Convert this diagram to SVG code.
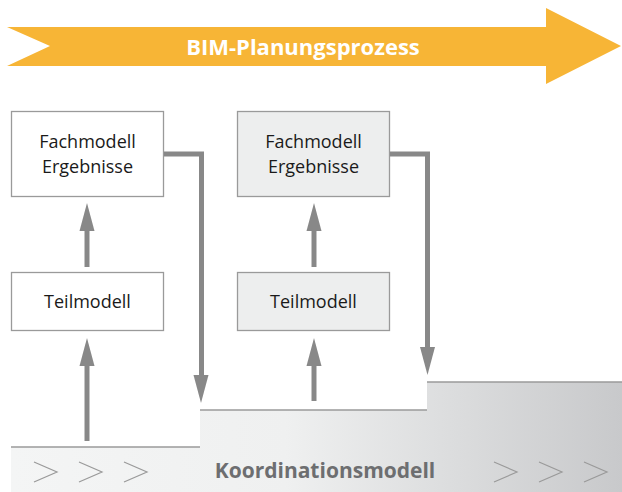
<svg xmlns="http://www.w3.org/2000/svg" width="622" height="492" viewBox="0 0 622 492">
<defs>
<linearGradient id="band" x1="0" y1="0" x2="1" y2="0">
<stop offset="0" stop-color="#f4f5f5"/>
<stop offset="0.45" stop-color="#eff0f0"/>
<stop offset="1" stop-color="#c8c9cb"/>
</linearGradient>
<style>
.box{stroke:#9a9a9a;stroke-width:1.3}
.white{fill:#ffffff}
.grey{fill:#edeeee}
.lbl{font-family:"Open Sans","Liberation Sans",sans-serif;font-size:18px;fill:#1a1a1a;text-anchor:middle}
.conn{fill:none;stroke:#888888;stroke-width:5}
.head{fill:#888888}
.chev{fill:none;stroke:#9a9a9a;stroke-width:1.2}
.step{fill:none;stroke:#9a9a9a;stroke-width:1.6}
</style>
</defs>

<g id="process-arrow">
<polygon points="7,27 546,27 546,8 621,46 546,84 546,66 7,66 50,46" fill="#f7b536"/>
<text x="303" y="55" font-family="'Open Sans','Liberation Sans',sans-serif" font-weight="bold" font-size="22" fill="#ffffff" text-anchor="middle">BIM-Planungsprozess</text>
</g>

<g id="koordinationsmodell">
<path d="M11,447 L200,447 L200,410 L427,410 L427,382 L622,382 L622,492 L11,492 Z" fill="url(#band)"/>
<path class="step" d="M11,447 H200 M200,410 H427 M427,382 H622"/>
<polyline class="chev" points="34,462 57,472 34,482"/>
<polyline class="chev" points="79,462 102,472 79,482"/>
<polyline class="chev" points="124,462 147,472 124,482"/>
<polyline class="chev" points="494,462 517,472 494,482"/>
<polyline class="chev" points="539,462 562,472 539,482"/>
<polyline class="chev" points="584,462 607,472 584,482"/>
<text x="325" y="478" font-family="'Open Sans','Liberation Sans',sans-serif" font-weight="bold" font-size="21" fill="#6d6e70" text-anchor="middle">Koordinationsmodell</text>
</g>

<g id="fach1">
<rect class="box white" x="11.5" y="111.5" width="152" height="85"/>
<text class="lbl" x="87.5" y="148">Fachmodell</text>
<text class="lbl" x="87.5" y="173">Ergebnisse</text>
</g>
<g id="teil1">
<rect class="box white" x="11.5" y="272.5" width="152" height="58"/>
<text class="lbl" x="87.5" y="308">Teilmodell</text>
</g>
<g id="fach2">
<rect class="box grey" x="237.5" y="111.5" width="152" height="85"/>
<text class="lbl" x="313.5" y="148">Fachmodell</text>
<text class="lbl" x="313.5" y="173">Ergebnisse</text>
</g>
<g id="teil2">
<rect class="box grey" x="237.5" y="272.5" width="152" height="58"/>
<text class="lbl" x="313.5" y="308">Teilmodell</text>
</g>

<g id="connectors">
<path class="conn" d="M87,267 V231"/>
<polygon class="head" points="79.5,231 94.5,231 87,203"/>
<path class="conn" d="M314,267 V231"/>
<polygon class="head" points="306.5,231 321.5,231 314,203"/>
<path class="conn" d="M87,441 V365"/>
<polygon class="head" points="79.5,366 94.5,366 87,338"/>
<path class="conn" d="M314,401 V365"/>
<polygon class="head" points="306.5,366 321.5,366 314,338"/>
<path class="conn" d="M164,154 H201.5 V376"/>
<polygon class="head" points="193.5,375 208.5,375 201,403"/>
<path class="conn" d="M390,154 H427.5 V348"/>
<polygon class="head" points="420,347 435,347 427.5,375"/>
</g>
</svg>
